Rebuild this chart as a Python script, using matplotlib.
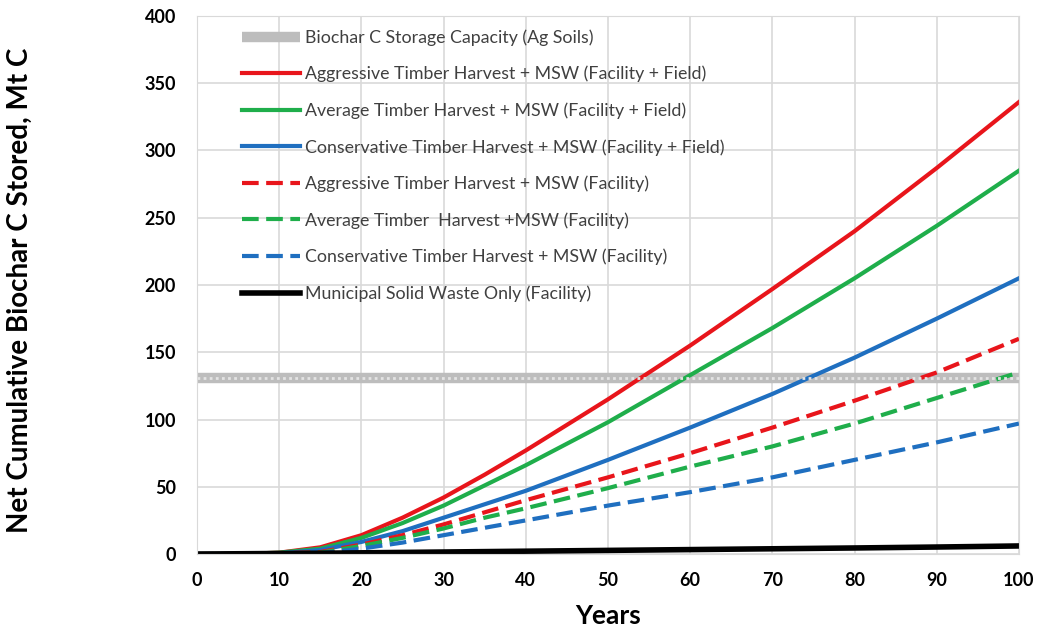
import numpy as np
import matplotlib
matplotlib.use("Agg")
import matplotlib.pyplot as plt

plt.rcParams['font.family'] = ['Lato', 'DejaVu Sans']

# data (Mt C)
years = [0, 5, 10, 15, 20, 25, 30, 35, 40, 50, 60, 70, 80, 90, 100]
aggr_field = [0, 0, 1, 5, 14, 27, 42, 59, 77, 115, 155, 197, 240, 287, 336]
avg_field = [0, 0, 1, 4, 12, 23, 36, 51, 66, 98, 133, 168, 205, 244, 285]
cons_field = [0, 0, 0.5, 3, 9, 17, 27, 37, 47, 70, 94, 119, 146, 175, 205]
aggr_fac = [0, 0, 0.5, 1.5, 7, 14, 22, 31, 40, 57, 75, 94, 114, 135, 160]
avg_fac = [0, 0, 0.5, 1, 6, 12, 19, 27, 34, 49, 65, 80, 97, 116, 135]
cons_fac = [0, 0, 0, 0.5, 4, 8.5, 14, 19.5, 25, 36, 46, 57, 70, 83, 97]
msw_only = [0, 0.2, 0.4, 0.6, 0.9, 1.2, 1.5, 1.8, 2.1, 2.7, 3.3, 3.9, 4.5, 5.2, 6]
capacity = 131

labels = ["Aggressive Timber Harvest + MSW (Facility + Field)",
          "Average Timber Harvest + MSW (Facility + Field)",
          "Conservative Timber Harvest + MSW (Facility + Field)",
          "Aggressive Timber Harvest + MSW (Facility)",
          "Average Timber  Harvest +MSW (Facility)",
          "Conservative Timber Harvest + MSW (Facility)",
          "Municipal Solid Waste Only (Facility)"]

red = '#e8151b'
green = '#1fae4b'
blue = '#1f6fc0'
dash = (0, (4, 1.8))

fig = plt.figure(figsize=(10.37, 6.29), dpi=100)
ax = fig.add_axes([0.19, 0.1192, 0.7926, 0.8554])

# storage capacity band
ax.plot([0, 100], [capacity, capacity], color='#bdbdbd', lw=7.5, solid_capstyle='butt',
        label="Biochar C Storage Capacity (Ag Soils)", zorder=2)
ax.plot([0, 100], [capacity, capacity], color='#e4e4e4', lw=2, ls=(0, (1, 1.2)), zorder=2.1)

ax.plot(years, aggr_field, color=red, lw=3, label=labels[0])
ax.plot(years, avg_field, color=green, lw=3, label=labels[1])
ax.plot(years, cons_field, color=blue, lw=3, label=labels[2])
ax.plot(years, aggr_fac, color=red, lw=3, ls=dash, label=labels[3])
ax.plot(years, avg_fac, color=green, lw=3, ls=dash, label=labels[4])
ax.plot(years, cons_fac, color=blue, lw=3, ls=dash, label=labels[5])
ax.plot(years, msw_only, color='black', lw=4, label=labels[6])

ax.set_xlim(0, 100)
ax.set_ylim(0, 400)
ax.set_xticks(np.arange(0, 101, 10))
ax.set_yticks(np.arange(0, 401, 50))
ax.grid(True, color='#d9d9d9', lw=1.2)
ax.set_axisbelow(True)
for s in ax.spines.values():
    s.set_color('#d9d9d9')
ax.tick_params(length=0, labelsize=13)
ax.tick_params(axis='x', pad=13)
ax.tick_params(axis='y', pad=15)
for t in ax.get_xticklabels() + ax.get_yticklabels():
    t.set_fontweight('bold')

ax.set_xlabel("Years", fontsize=19, fontweight='bold')
ax.xaxis.set_label_coords(0.5, -0.092)
ax.set_ylabel("Net Cumulative Biochar C Stored, Mt C", fontsize=20, fontweight='bold')
ax.yaxis.set_label_coords(-0.2, 0.49)

leg = ax.legend(loc='upper left', bbox_to_anchor=(0.035, 1.005), frameon=False, fontsize=12.75,
                handlelength=3.3, labelspacing=1.13, handletextpad=0.3)
for t in leg.get_texts():
    t.set_color('#404040')

fig.savefig("out.png", dpi=100)
